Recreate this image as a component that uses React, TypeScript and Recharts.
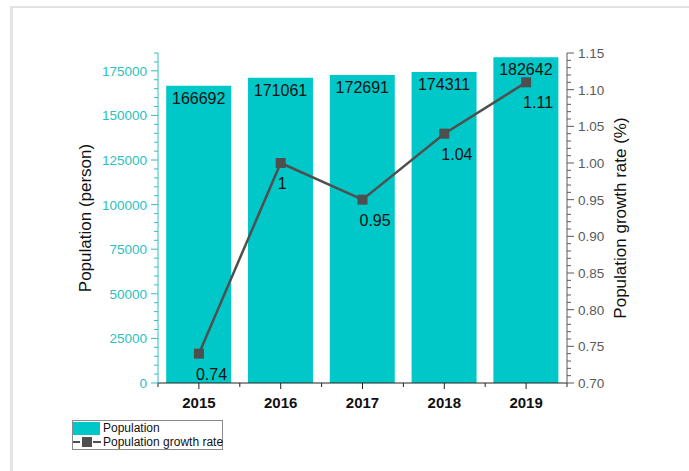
import React from "react";
import {
  ComposedChart,
  Bar,
  Line,
  XAxis,
  YAxis,
  LabelList,
} from "recharts";

// values
const years = ["2015", "2016", "2017", "2018", "2019"];
const population = [166692, 171061, 172691, 174311, 182642];
const growthRate = [0.74, 1.0, 0.95, 1.04, 1.11];

const popMajorTicks = [0, 25000, 50000, 75000, 100000, 125000, 150000, 175000];
const rateMajorTicks = [0.7, 0.75, 0.8, 0.85, 0.9, 0.95, 1.0, 1.05, 1.1, 1.15];

const POP_DOMAIN: [number, number] = [0, 185000];
const RATE_DOMAIN: [number, number] = [0.7, 1.15];

// minor ticks (4 between majors) – purely cosmetic
const popTicks: number[] = [];
for (let v = 0; v <= POP_DOMAIN[1]; v += 5000) popTicks.push(v);
const rateTicks: number[] = [];
for (let i = 70; i <= 115; i++) rateTicks.push(i / 100);

const data = years.map((year, i) => ({
  year,
  population: population[i],
  rate: growthRate[i],
}));

const W = 689;
const H = 471;
const LEFT_AXIS_W = 90;
const RIGHT_AXIS_W = 70;
const X_AXIS_H = 30;

const BAR_COLOR = "#00C8C8";
const CYAN_TEXT = "#2BBFC0";
const LINE_COLOR = "#4F4F4F";
const GRAY_TEXT = "#5A5A5A";
const FONT = "'Liberation Sans', Arial, sans-serif";

const isPopMajor = (v: number) => popMajorTicks.includes(v);
const isRateMajor = (v: number) => rateMajorTicks.some((t) => Math.abs(t - v) < 1e-6);

const PopTick = (props: any) => {
  const { x, y, payload } = props;
  const major = isPopMajor(payload.value);
  return (
    <g>
      <line x1={x} x2={x - (major ? 7 : 4)} y1={y} y2={y} stroke={CYAN_TEXT} strokeWidth={1} />
      {major && (
        <text x={x - 11} y={y} dy={5} textAnchor="end" fontSize={13.5} fill={CYAN_TEXT} fontFamily={FONT}>
          {payload.value}
        </text>
      )}
    </g>
  );
};

const RateTick = (props: any) => {
  const { x, y, payload } = props;
  const major = isRateMajor(payload.value);
  return (
    <g>
      <line x1={x} x2={x + (major ? 7 : 4)} y1={y} y2={y} stroke={GRAY_TEXT} strokeWidth={1} />
      {major && (
        <text x={x + 11} y={y} dy={5} textAnchor="start" fontSize={13.5} fill={GRAY_TEXT} fontFamily={FONT}>
          {payload.value.toFixed(2)}
        </text>
      )}
    </g>
  );
};

const BottomTick = (props: any) => {
  const { x, y, payload, index } = props;
  const off = payload.offset || 0;
  return (
    <g>
      <line x1={x} x2={x} y1={y} y2={y + 6} stroke="#222" />
      <line x1={x - off} x2={x - off} y1={y} y2={y + 4} stroke="#222" />
      {index === years.length - 1 && <line x1={x + off} x2={x + off} y1={y} y2={y + 4} stroke="#222" />}
      <text x={x} y={y + 25} textAnchor="middle" fontSize={15} fontWeight="bold" fill="#111" fontFamily={FONT}>
        {payload.value}
      </text>
    </g>
  );
};

const TopTick = (props: any) => {
  const { x, y, payload } = props;
  const off = payload.offset || 0;
  return (
    <g>
      <line x1={x} x2={x} y1={y} y2={y + 5} stroke="#222" />
      <line x1={x - off} x2={x - off} y1={y} y2={y + 5} stroke="#222" />
    </g>
  );
};

const SquareDot = (props: any) => {
  const { cx, cy, index } = props;
  return <rect key={`dot-${index}`} x={cx - 5} y={cy - 5} width={10} height={10} fill={LINE_COLOR} />;
};

const BarValue = (props: any) => {
  const { x, y, width, value } = props;
  return (
    <text x={x + width / 2} y={y + 18} textAnchor="middle" fontSize={16} fill="#111" fontFamily={FONT}>
      {value}
    </text>
  );
};

const RateValue = (props: any) => {
  const { x, y, value } = props;
  return (
    <text x={x - 3} y={y + 26} textAnchor="start" fontSize={16} fill="#111" fontFamily={FONT}>
      {String(Number(value))}
    </text>
  );
};

export default function App() {
  return (
    <div style={{ position: "absolute", left: 0, top: 0, width: W, height: H, background: "#fff", overflow: "hidden" }}>
      {/* faint page frame */}
      <div
        style={{
          position: "absolute",
          left: 10,
          top: 6,
          right: -4,
          bottom: -4,
          borderTop: "2px solid #E2E2E2",
          borderLeft: "3px solid #E4E4E4",
        }}
      />
      <ComposedChart
        width={W}
        height={H}
        data={data}
        margin={{ top: 53, right: W - 567 - RIGHT_AXIS_W, bottom: H - 383 - X_AXIS_H, left: 158 - LEFT_AXIS_W }}
        barCategoryGap="10%"
        style={{ position: "absolute", left: 0, top: 0 }}
      >
        <XAxis
          dataKey="year"
          height={X_AXIS_H}
          axisLine={{ stroke: "#222" }}
          tickLine={false}
          tickSize={0}
          tickMargin={0}
          interval={0}
          tick={BottomTick}
        />
        <XAxis
          xAxisId="top"
          dataKey="year"
          orientation="top"
          height={0}
          axisLine={{ stroke: "#222" }}
          tickLine={false}
          tickSize={0}
          tickMargin={0}
          interval={0}
          tick={TopTick}
        />
        <YAxis
          yAxisId="left"
          width={LEFT_AXIS_W}
          domain={POP_DOMAIN}
          ticks={popTicks}
          interval={0}
          axisLine={{ stroke: CYAN_TEXT }}
          tickLine={false}
          tickSize={0}
          tickMargin={0}
          tick={PopTick}
          label={{
            content: (p: any) => {
              const vb = p.viewBox;
              const cx = vb.x + 17;
              const cy = vb.y + vb.height / 2;
              return (
                <text x={cx} y={cy} transform={`rotate(-90 ${cx} ${cy})`} textAnchor="middle" dy={6} fontSize={17} fill="#111" fontFamily={FONT}>
                  Population (person)
                </text>
              );
            },
          }}
        />
        <YAxis
          yAxisId="right"
          orientation="right"
          width={RIGHT_AXIS_W}
          domain={RATE_DOMAIN}
          ticks={rateTicks}
          interval={0}
          axisLine={{ stroke: GRAY_TEXT }}
          tickLine={false}
          tickSize={0}
          tickMargin={0}
          tick={RateTick}
          label={{
            content: (p: any) => {
              const vb = p.viewBox;
              const cx = vb.x + 53;
              const cy = vb.y + vb.height / 2;
              return (
                <text x={cx} y={cy} transform={`rotate(-90 ${cx} ${cy})`} textAnchor="middle" dy={6} fontSize={17} fill="#111" fontFamily={FONT}>
                  Population growth rate (%)
                </text>
              );
            },
          }}
        />
        <Bar yAxisId="left" dataKey="population" fill={BAR_COLOR} isAnimationActive={false}>
          <LabelList dataKey="population" content={BarValue} />
        </Bar>
        <Line
          yAxisId="right"
          dataKey="rate"
          stroke={LINE_COLOR}
          strokeWidth={2.5}
          dot={SquareDot}
          activeDot={false}
          isAnimationActive={false}
        >
          <LabelList dataKey="rate" content={RateValue} />
        </Line>
      </ComposedChart>

      {/* legend */}
      <div
        style={{
          position: "absolute",
          left: 72,
          top: 420,
          width: 151,
          height: 30,
          border: "1px solid #8A8A8A",
          boxSizing: "border-box",
          fontFamily: FONT,
          fontSize: 12,
          color: "#111",
          lineHeight: "14px",
          whiteSpace: "nowrap",
        }}
      >
        <div style={{ display: "flex", alignItems: "center", height: 14 }}>
          <div style={{ width: 27, height: 13, background: BAR_COLOR, marginRight: 3, flexShrink: 0 }} />
          <span>Population</span>
        </div>
        <div style={{ display: "flex", alignItems: "center", height: 14 }}>
          <svg width={28} height={14} style={{ marginRight: 2, flexShrink: 0 }}>
            <line x1={0} x2={7} y1={7} y2={7} stroke={LINE_COLOR} strokeWidth={2} />
            <line x1={20} x2={28} y1={7} y2={7} stroke={LINE_COLOR} strokeWidth={2} />
            <rect x={9} y={2} width={10} height={10} fill={LINE_COLOR} />
          </svg>
          <span>Population growth rate</span>
        </div>
      </div>
    </div>
  );
}
